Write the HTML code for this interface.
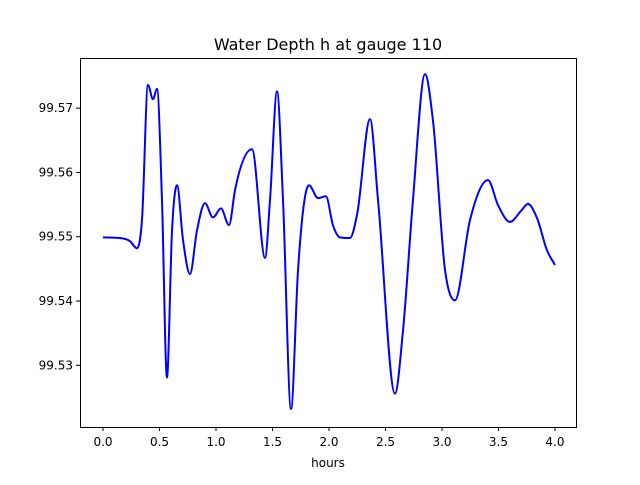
<!DOCTYPE html>
<html><head><meta charset="utf-8"><style>
body{margin:0;background:#fff;font-family:"Liberation Sans","DejaVu Sans",sans-serif}
svg text{font-family:"DejaVu Sans","Liberation Sans",sans-serif;font-size:12px;fill:#000}
</style></head><body>
<svg id="chart" width="640" height="480" xmlns="http://www.w3.org/2000/svg">
<rect width="640" height="480" fill="#fff"/>
<text x="328" y="50" text-anchor="middle" style="font-size:16px">Water Depth h at gauge 110</text>
<g id="plot"></g>
<rect x="80.5" y="58.5" width="496" height="369" fill="none" stroke="#000" stroke-width="1"/>
<text x="328" y="467" text-anchor="middle">hours</text>
</svg>
<script>
const hours=[0,.150,.239,.301,.345,.398,.442,.478,.522,.566,.611,.655,.708,.770,.832,.903,.973,1.044,1.115,1.168,1.319,1.434,1.478,1.540,1.593,1.664,1.726,1.823,1.903,1.973,2.035,2.097,2.186,2.248,2.363,2.434,2.584,2.655,2.743,2.850,2.920,3.027,3.115,3.248,3.407,3.496,3.602,3.699,3.761,3.841,3.929,4.0];
const depth=[99.5499,99.5498,99.5493,99.5482,99.5526,99.5736,99.5714,99.5730,99.5557,99.5281,99.5510,99.5580,99.5495,99.5442,99.5510,99.5552,99.5530,99.5544,99.5518,99.5572,99.5636,99.5467,99.5557,99.5726,99.5557,99.5232,99.5448,99.5580,99.5560,99.5563,99.5518,99.5499,99.5498,99.5534,99.5683,99.5557,99.5256,99.5354,99.5557,99.5753,99.5681,99.5448,99.5401,99.5526,99.5588,99.5549,99.5523,99.5540,99.5551,99.5529,99.5479,99.5456];
const xTicks=[0,0.5,1,1.5,2,2.5,3,3.5,4];
const yTicks=[99.53,99.54,99.55,99.56,99.57];
const X0=80,X1=576,Y0=427,Y1=58,xmin=-0.2035,xmax=4.186,ymin=99.5204,ymax=99.5778;
const sx=v=>X0+(v-xmin)/(xmax-xmin)*(X1-X0);
const sy=v=>Y0-(v-ymin)/(ymax-ymin)*(Y0-Y1);
const NS='http://www.w3.org/2000/svg',g=document.getElementById('plot');
function mk(t,a){const e=document.createElementNS(NS,t);for(const k in a)e.setAttribute(k,a[k]);g.appendChild(e);return e;}
xTicks.forEach(t=>{const x=sx(t);
const l=mk('line',{x1:x,x2:x,y1:427,y2:431,stroke:'#000'});


const tx=mk('text',{x:x,y:446,'text-anchor':'middle'});tx.textContent=t.toFixed(1);

});
yTicks.forEach(t=>{const y=sy(t);
const l=mk('line',{x1:76,x2:80,y1:y,y2:y,stroke:'#000'});


const tx=mk('text',{x:73,y:y+4,'text-anchor':'end'});tx.textContent=t.toFixed(2);

});
const px=hours.map(sx),py=depth.map(sy),n=px.length;
const d=[],m=[];for(let i=0;i<n-1;i++)d.push((py[i+1]-py[i])/(px[i+1]-px[i]));
m[0]=d[0];m[n-1]=d[n-2];
for(let i=1;i<n-1;i++){
  if(d[i-1]*d[i]<=0){m[i]=0;continue;}
  const h0=px[i]-px[i-1],h1=px[i+1]-px[i];
  let s=(d[i-1]*h1+d[i]*h0)/(h0+h1);
  const lim=3*Math.min(Math.abs(d[i-1]),Math.abs(d[i]));
  if(Math.abs(s)>lim)s=Math.sign(s)*lim;
  m[i]=s;
}
let p='M'+px[0]+','+py[0];
for(let i=0;i<n-1;i++){const h=(px[i+1]-px[i])/3;
p+=' C'+(px[i]+h)+','+(py[i]+m[i]*h)+' '+(px[i+1]-h)+','+(py[i+1]-m[i+1]*h)+' '+px[i+1]+','+py[i+1];}
const line=mk('path',{d:p,fill:'none',stroke:'#0000ff','stroke-width':2});


</script>
</body></html>
